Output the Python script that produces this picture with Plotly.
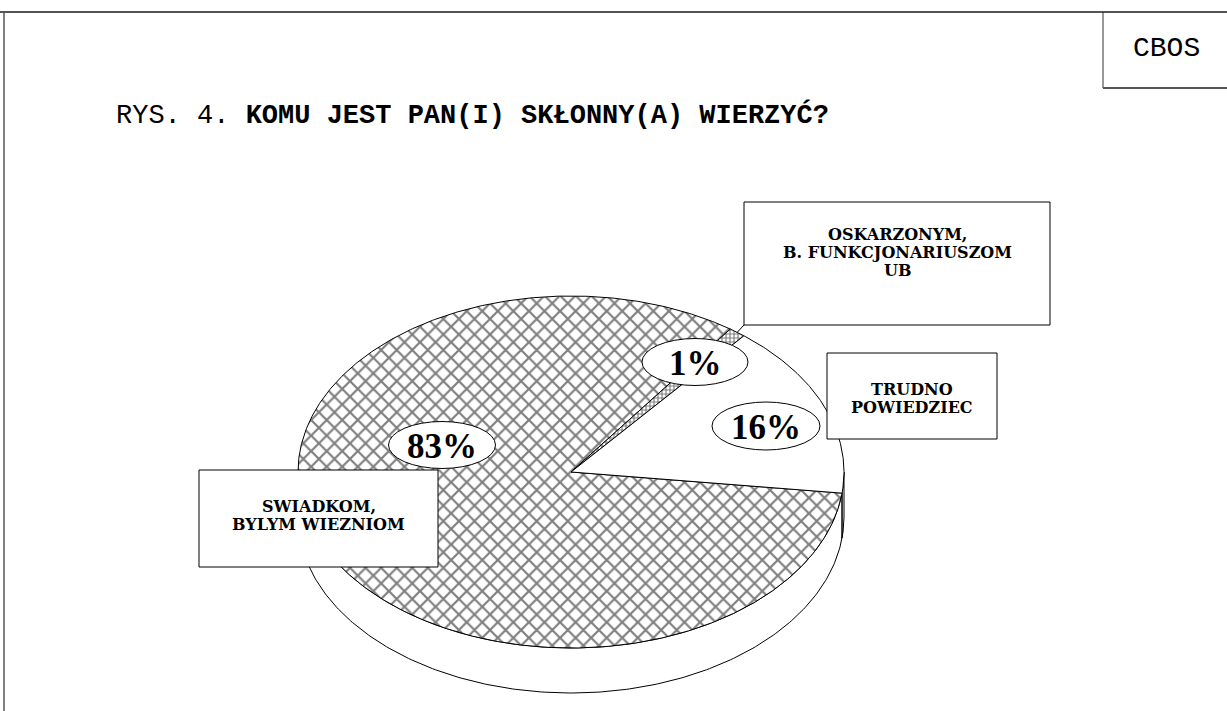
import numpy as np
import plotly.graph_objects as go

# ---- data ----
categories = ["SWIADKOM,<br>BYLYM WIEZNIOM",
              "OSKARZONYM,<br>B. FUNKCJONARIUSZOM<br>UB",
              "TRUDNO<br>POWIEDZIEC"]
values = [83, 1, 16]
title_prefix = "RYS. 4."
title_text = "KOMU JEST PAN(I) SKŁONNY(A) WIERZYĆ?"
source_text = "CBOS"

# ---- style / geometry (page pixel space) ----
W, H = 1227, 711
CX, CY = 571, 472       # centre of pie top face
RX, RY = 273, 176       # radii of top face
DEPTH = 45              # thickness of the pie
START = -6.9            # degrees, slices drawn clockwise from here
patterns = [dict(shape="x", size=11, solidity=0.36, fgcolor="black", bgcolor="white"),
            dict(shape="+", size=4, solidity=0.5, fgcolor="black", bgcolor="white"),
            None]
pct_pos = [(442, 445, 107, 47), (695, 362, 106, 47), (766, 426, 108, 48)]
box_pos = [(199, 470, 438, 567), (744, 202, 1050, 325), (827, 353, 997, 439)]
box_text_dy = [-3, -11, 2]
LINE_GAP = 18

def ell(t_deg, cy=CY):
    t = np.radians(t_deg)
    return CX + RX * np.cos(t), cy - RY * np.sin(t)

fig = go.Figure()

# side (depth) face: front half
t_front = np.linspace(180, 360, 240)
xt, yt = ell(t_front)
xb, yb = ell(t_front[::-1], CY + DEPTH)
fig.add_trace(go.Scatter(x=np.r_[xt, xb, xt[0]], y=np.r_[yt, yb, yt[0]],
                         mode="lines", fill="toself", fillcolor="white",
                         line=dict(color="black", width=1), hoverinfo="skip"))

total = sum(values)
angles = [START]
for v in values:
    angles.append(angles[-1] - 360 * v / total)
for a in angles:
    am = a % 360
    if 180 < am < 360:
        x0, y0 = ell(am)
        x1, y1 = ell(am, CY + DEPTH)
        fig.add_trace(go.Scatter(x=[x0, x1], y=[y0, y1], mode="lines",
                                 line=dict(color="black", width=1), hoverinfo="skip"))

# top face slices
for i, v in enumerate(values):
    a0, a1 = angles[i], angles[i + 1]
    n = max(8, int(abs(a1 - a0) * 2))
    tt = np.linspace(a0, a1, n)
    xs, ys = ell(tt)
    px = np.r_[CX, xs, CX]
    py = np.r_[CY, ys, CY]
    kw = dict(fillpattern=patterns[i]) if patterns[i] else {}
    fig.add_trace(go.Scatter(x=px, y=py, mode="lines", fill="toself",
                             fillcolor="white", line=dict(color="black", width=1),
                             hoverinfo="skip", **kw))

# leader line from the 1% box to its slice
mid1 = (angles[1] + angles[2]) / 2
lx, ly = ell(mid1)
fig.add_trace(go.Scatter(x=[box_pos[1][0], lx], y=[box_pos[1][3], ly], mode="lines",
                         line=dict(color="black", width=1), hoverinfo="skip"))

shapes = []
annotations = []

# frame
shapes.append(dict(type="line", x0=0, x1=W, y0=12, y1=12, line=dict(color="#555", width=2)))
shapes.append(dict(type="line", x0=4, x1=4, y0=12, y1=H, line=dict(color="#555", width=1.5)))
shapes.append(dict(type="line", x0=1103, x1=1103, y0=12, y1=88, line=dict(color="#333", width=1)))
shapes.append(dict(type="line", x0=1103, x1=W, y0=88, y1=88, line=dict(color="#555", width=2)))

# percentage ellipses
for (ex, ey, ew, eh), v in zip(pct_pos, values):
    shapes.append(dict(type="circle", x0=ex - ew / 2, x1=ex + ew / 2, y0=ey - eh / 2, y1=ey + eh / 2,
                       fillcolor="white", line=dict(color="black", width=1)))
    annotations.append(dict(x=ex, y=ey + 1, text=f"{v}%", showarrow=False,
                            font=dict(family="Liberation Serif", size=35, color="black", weight="bold")))

# category boxes
for (x0, y0, x1, y1), c, dy in zip(box_pos, categories, box_text_dy):
    shapes.append(dict(type="rect", x0=x0, x1=x1, y0=y0, y1=y1, fillcolor="white",
                       line=dict(color="black", width=1)))
    lines = c.split("<br>")
    yc = (y0 + y1) / 2 + dy
    for k, ln in enumerate(lines):
        yy = yc + (k - (len(lines) - 1) / 2) * LINE_GAP
        annotations.append(dict(x=(x0 + x1) / 2, y=yy, text=ln, showarrow=False,
                                font=dict(family="DejaVu Serif", size=16, color="black", weight="bold")))

# title and source
annotations.append(dict(x=114, y=115, xanchor="left", yanchor="middle", showarrow=False,
                        text=f"{title_prefix} <b>{title_text}</b>",
                        font=dict(family="Liberation Mono", size=27, color="black")))
annotations.append(dict(x=1166, y=48, showarrow=False, text=source_text,
                        font=dict(family="Liberation Mono", size=28, color="black")))

fig.update_layout(width=W, height=H, margin=dict(l=0, r=0, t=0, b=0),
                  paper_bgcolor="white", plot_bgcolor="white", showlegend=False,
                  xaxis=dict(range=[0, W], visible=False, fixedrange=True),
                  yaxis=dict(range=[H, 0], visible=False, fixedrange=True),
                  shapes=shapes, annotations=annotations)

fig.write_html("out.html", config=dict(displayModeBar=False),
               post_script="document.body.style.margin='0';document.body.style.overflow='hidden';")
